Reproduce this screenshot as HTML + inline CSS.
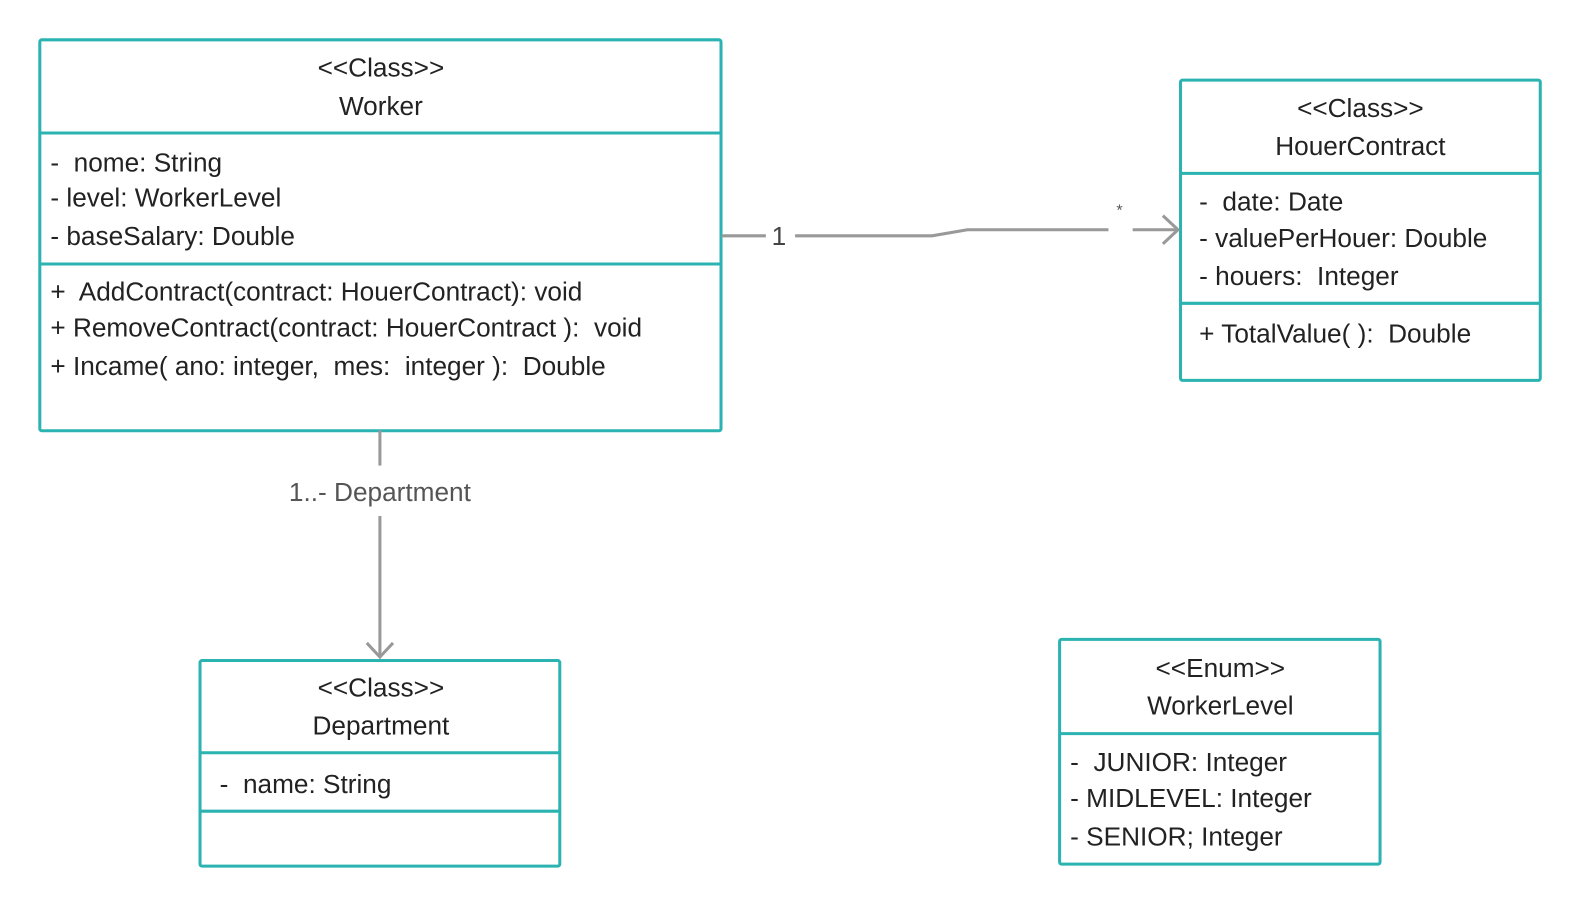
<!DOCTYPE html>
<html><head><meta charset="utf-8"><style>
html,body{margin:0;padding:0;background:#fff;}
svg{display:block;}
text{font-family:"Liberation Sans",sans-serif;font-size:26px;fill:#222;white-space:pre;}
.c{text-anchor:middle;}
</style></head><body>
<svg width="1580" height="906" viewBox="0 0 1580 906">
<g transform="scale(1.0077)">
<g fill="#fff" stroke="#2bb3b1" stroke-width="3">
<rect x="39.5" y="39.5" width="676" height="388" rx="2"/>
<line x1="39" y1="132" x2="716" y2="132"/><line x1="39" y1="262" x2="716" y2="262"/>
<rect x="1171.5" y="79.5" width="357" height="298" rx="2"/>
<line x1="1171" y1="172" x2="1529" y2="172"/><line x1="1171" y1="301" x2="1529" y2="301"/>
<rect x="198.5" y="655.5" width="357" height="204" rx="2"/>
<line x1="198" y1="747" x2="556" y2="747"/><line x1="198" y1="805" x2="556" y2="805"/>
<rect x="1051.5" y="634.5" width="318" height="223" rx="2"/>
<line x1="1051" y1="728" x2="1370" y2="728"/>
</g>
<g stroke="#999" stroke-width="3" fill="none">
<path d="M716 234 H760"/><path d="M789 234 H925 L960 228 H1100"/><path d="M1124 228 H1169"/>
<path d="M1154 214 L1169 228 L1154 242"/>
<path d="M377 427 V462"/><path d="M377 512 V652"/><path d="M364 638 L377 652 L390 638"/>
</g>
<text x="773" y="243" class="c" style="fill:#444">1</text>
<text x="1111" y="214" class="c" style="font-size:16px;fill:#555">*</text>
<text x="377" y="497" class="c" style="fill:#555">1..- Department</text>
<text x="378" y="76" class="c">&lt;&lt;Class&gt;&gt;</text>
<text x="378" y="114" class="c">Worker</text>
<text x="50" y="170">-  nome: String</text>
<text x="50" y="205">- level: WorkerLevel</text>
<text x="50" y="243">- baseSalary: Double</text>
<text x="50" y="298">+  AddContract(contract: HouerContract): void</text>
<text x="50" y="334">+ RemoveContract(contract: HouerContract ):  void</text>
<text x="50" y="372">+ Incame( ano: integer,  mes:  integer ):  Double</text>
<text x="1350" y="116" class="c">&lt;&lt;Class&gt;&gt;</text>
<text x="1350" y="154" class="c">HouerContract</text>
<text x="1190" y="209">-  date: Date</text>
<text x="1190" y="245">- valuePerHouer: Double</text>
<text x="1190" y="283">- houers:  Integer</text>
<text x="1190" y="340">+ TotalValue( ):  Double</text>
<text x="378" y="691" class="c">&lt;&lt;Class&gt;&gt;</text>
<text x="378" y="729" class="c">Department</text>
<text x="218" y="787">-  name: String</text>
<text x="1211" y="672" class="c">&lt;&lt;Enum&gt;&gt;</text>
<text x="1211" y="709" class="c">WorkerLevel</text>
<text x="1062" y="765">-  JUNIOR: Integer</text>
<text x="1062" y="801">- MIDLEVEL: Integer</text>
<text x="1062" y="839">- SENIOR; Integer</text>
</g>
</svg>
</body></html>
